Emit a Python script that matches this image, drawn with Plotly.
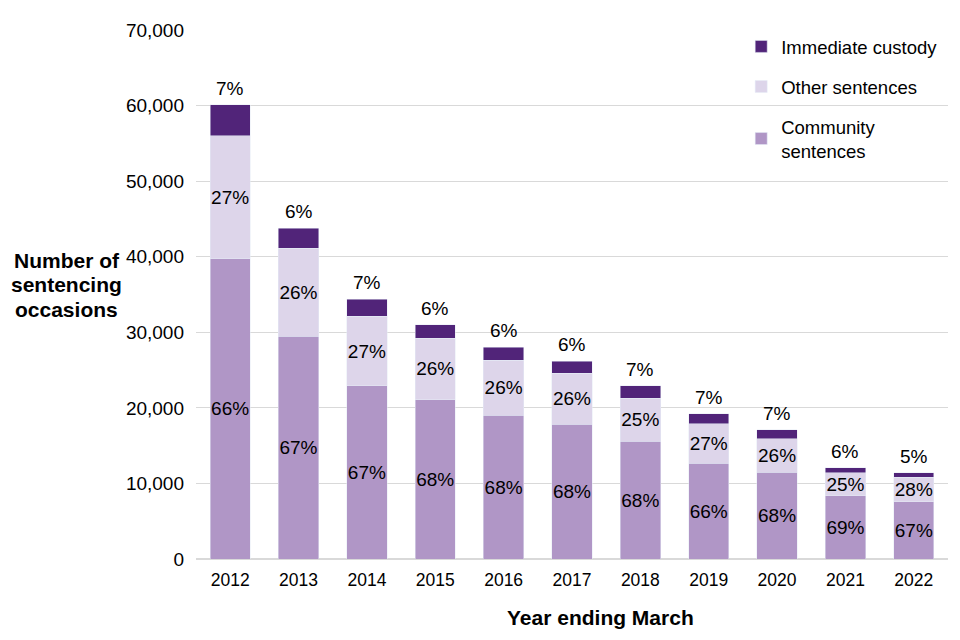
import plotly.graph_objects as go

years = ["2012", "2013", "2014", "2015", "2016", "2017", "2018", "2019", "2020", "2021", "2022"]
community = [39700, 29500, 22900, 21100, 19000, 17800, 15600, 12700, 11500, 8400, 7600]
other = [16300, 11600, 9200, 8100, 7300, 6800, 5700, 5200, 4400, 3000, 3200]
custody = [4100, 2700, 2300, 1800, 1700, 1600, 1600, 1300, 1200, 700, 600]

community_pct = ["66%", "67%", "67%", "68%", "68%", "68%", "68%", "66%", "68%", "69%", "67%"]
other_pct = ["27%", "26%", "27%", "26%", "26%", "26%", "25%", "27%", "26%", "25%", "28%"]
custody_pct = ["7%", "6%", "7%", "6%", "6%", "6%", "7%", "7%", "7%", "6%", "5%"]

c_comm = "#b096c6"
c_other = "#ddd5ea"
c_cust = "#512479"
font_family = "Liberation Sans, Arial, sans-serif"

totals = [a + b + c for a, b, c in zip(community, other, custody)]

fig = go.Figure()
fig.add_trace(go.Bar(x=years, y=community, name="Community<br>sentences", marker_color=c_comm,
                     text=community_pct, textposition="inside", insidetextanchor="middle",
                     textangle=0, textfont=dict(size=19, color="#000000"),
                     legendgroup="c", legendrank=3, width=0.59))
fig.add_trace(go.Bar(x=years, y=other, name="Other sentences", marker_color=c_other,
                     text=other_pct, textposition="inside", insidetextanchor="middle",
                     textangle=0, textfont=dict(size=19, color="#000000"),
                     legendgroup="o", legendrank=2, width=0.59))
fig.add_trace(go.Bar(x=years, y=custody, name="Immediate custody", marker_color=c_cust,
                     textposition="none", legendgroup="i", legendrank=1, width=0.59))

annotations = []
for i, (tot, lab) in enumerate(zip(totals, custody_pct)):
    # category axis: position by category index
    annotations.append(dict(x=i, y=tot, xref="x", yref="y", text=lab, showarrow=False,
                            xanchor="center", yanchor="bottom", yshift=4,
                            font=dict(size=19, color="#000000")))

for txt, yp in [("Number of", 0.565), ("sentencing", 0.519), ("occasions", 0.472)]:
    annotations.append(dict(text="<b>" + txt + "</b>", xref="paper", yref="paper",
                            x=-0.172, y=yp, xanchor="center", yanchor="middle",
                            showarrow=False, font=dict(size=21)))

annotations.append(dict(text="<b>Year ending March</b>", xref="paper", yref="paper",
                        x=0.538, y=-0.1105, xanchor="center", yanchor="middle",
                        showarrow=False, font=dict(size=21)))

fig.update_layout(
    width=952, height=632,
    barmode="stack",
    plot_bgcolor="white", paper_bgcolor="white",
    margin=dict(l=188, r=12, t=17, b=81),
    font=dict(family=font_family, size=18, color="#000000"),
    uniformtext=dict(minsize=19, mode="show"),
    showlegend=True,
    legend=dict(x=0.725, y=1.004, xanchor="left", yanchor="top", traceorder="grouped",
                tracegroupgap=13, font=dict(size=18.5, color="#000000"), bgcolor="rgba(0,0,0,0)",
                itemwidth=30),
    xaxis=dict(type="category", categoryorder="array", categoryarray=years,
               range=[-0.5, len(years) - 0.5], ticklabelstandoff=8,
               showgrid=False, showline=False, ticks="", tickfont=dict(size=17.5)),
    yaxis=dict(range=[0, 70000], dtick=10000, tickformat=",", showgrid=True,
               gridcolor="#d9d9d9", gridwidth=1, zeroline=True, zerolinecolor="#d9d9d9",
               showline=False, ticks="", tickfont=dict(size=19), ticklabelstandoff=11),
    annotations=annotations,
)

fig.write_html("out.html")
